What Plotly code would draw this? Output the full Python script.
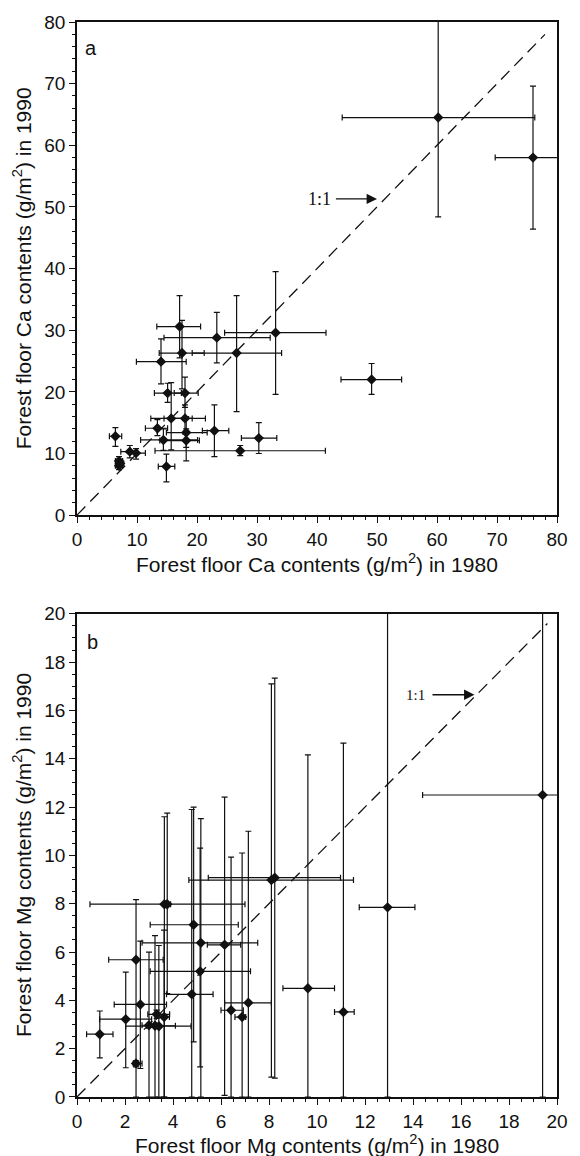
import plotly.graph_objects as go

# ---------------- Panel a: Ca ----------------
ca_1980 = [60.2, 76.0, 49.1, 33.1, 26.6, 23.3, 17.1, 17.5, 14.0, 15.1, 18.0, 15.7, 18.0, 13.4,
           14.4, 18.2, 18.2, 22.9, 30.3, 27.2, 14.9, 6.4, 8.8, 9.85, 7.0, 7.0, 7.2]
ca_1990 = [64.5, 58.0, 22.0, 29.6, 26.3, 28.8, 30.6, 26.3, 24.9, 19.8, 19.8, 15.7, 15.7, 14.1,
           12.2, 13.4, 12.1, 13.7, 12.5, 10.45, 7.9, 12.8, 10.3, 10.07, 8.8, 8.0, 8.4]
ca_1980_lo = [44.2, 69.7, 44.0, 24.6, 19.2, 14.5, 13.3, 13.7, 9.9, 12.9, 16.2, 12.3, 14.5, 11.4,
              10.6, 14.9, 13.8, 20.9, 27.4, 13.0, 13.55, 5.4, 7.3, 8.8, 6.4, 6.4, 6.6]
ca_1980_hi = [76.3, 85.0, 54.1, 41.5, 34.1, 32.2, 20.6, 21.2, 18.2, 17.4, 20.2, 19.2, 21.4, 15.1,
              20.1, 21.7, 20.4, 25.3, 33.3, 41.4, 16.3, 7.45, 10.0, 11.4, 7.6, 7.6, 7.8]
ca_1990_lo = [48.4, 46.4, 19.6, 19.6, 16.8, 24.7, 25.5, 20.5, 21.3, 18.3, 17.5, 10.6, 13.2, 12.9,
              10.5, 11.0, 8.8, 9.5, 10.0, 9.65, 5.4, 11.15, 9.3, 9.1, 8.2, 7.4, 7.8]
ca_1990_hi = [90.0, 69.6, 24.6, 39.5, 35.6, 32.9, 35.6, 31.6, 28.6, 21.4, 22.4, 21.5, 17.9, 15.5,
              14.0, 16.0, 14.0, 17.9, 15.0, 11.3, 9.9, 14.2, 11.3, 10.8, 9.5, 8.6, 9.0]

# ---------------- Panel b: Mg ----------------
mg_1980 = [0.95, 2.03, 2.46, 2.46, 2.64, 3.0, 3.25, 3.41, 3.32, 3.63, 3.64, 3.76, 4.86, 4.78,
           5.16, 5.13, 6.15, 6.42, 6.88, 7.14, 8.1, 8.24, 9.62, 11.1, 12.94, 19.4]
mg_1990 = [2.6, 3.22, 5.68, 1.39, 3.83, 2.97, 2.95, 2.93, 3.42, 3.31, 7.98, 7.98, 7.13, 4.25,
           6.38, 5.2, 6.3, 3.59, 3.31, 3.9, 8.98, 9.08, 4.5, 3.52, 7.85, 12.5]
mg_1980_lo = [0.4, 0.94, 1.32, 2.34, 1.55, 2.71, 2.9, 2.03, 2.95, 3.3, 0.54, 3.6, 3.05, 3.73,
              2.71, 3.05, 5.43, 6.0, 6.58, 6.15, 4.66, 5.47, 8.58, 10.73, 11.76, 14.4]
mg_1980_hi = [1.5, 3.11, 3.59, 2.71, 3.73, 3.3, 4.1, 4.75, 3.86, 3.85, 7.0, 3.9, 6.72, 5.67,
              7.53, 7.23, 6.82, 6.93, 7.03, 8.1, 11.52, 10.98, 10.73, 11.55, 14.08, 21.0]
mg_1990_lo = [1.62, 1.21, 0.0, 1.25, 1.18, 0.0, 0.0, 0.0, 3.25, 0.0, 0.0, 4.28, 2.28, 0.0,
              0.0, 1.25, 0.07, 0.0, 0.0, 0.0, 0.82, 0.78, 0.0, 0.0, 0.0, 0.0]
mg_1990_hi = [3.56, 5.17, 8.17, 1.5, 6.45, 6.0, 6.68, 6.27, 3.6, 6.91, 11.6, 11.75, 12.0, 11.9,
              11.52, 10.3, 12.41, 9.93, 10.1, 11.0, 17.1, 17.34, 14.16, 14.65, 25.0, 25.0]

ca_range = [0, 80]
mg_range = [0, 20]
ca_diag = [0, 78]
mg_diag = [0, 19.6]

FONT = "Liberation Sans, Arial, sans-serif"
SERIF = "Liberation Serif, Times New Roman, serif"
INK = "#111111"

fig = go.Figure()


def add_panel(x, y, xlo, xhi, ylo, yhi, diag, xa, ya):
    fig.add_trace(go.Scatter(
        x=diag, y=diag, mode="lines", xaxis=xa, yaxis=ya,
        line=dict(color=INK, width=1.3, dash="12px,7px"),
        hoverinfo="skip", showlegend=False))
    fig.add_trace(go.Scatter(
        x=x, y=y, mode="markers", xaxis=xa, yaxis=ya, showlegend=False,
        marker=dict(symbol="diamond", size=8, color=INK),
        error_x=dict(type="data", symmetric=False,
                     array=[h - v for h, v in zip(xhi, x)],
                     arrayminus=[v - l for v, l in zip(x, xlo)],
                     color=INK, thickness=1.2, width=3),
        error_y=dict(type="data", symmetric=False,
                     array=[h - v for h, v in zip(yhi, y)],
                     arrayminus=[v - l for v, l in zip(y, ylo)],
                     color=INK, thickness=1.2, width=3),
    ))


add_panel(ca_1980, ca_1990, ca_1980_lo, ca_1980_hi, ca_1990_lo, ca_1990_hi, ca_diag, "x", "y")
add_panel(mg_1980, mg_1990, mg_1980_lo, mg_1980_hi, mg_1990_lo, mg_1990_hi, mg_diag, "x2", "y2")

W, H = 580, 1156
ML, MR, MT, MB = 77, 13, 18, 59
PH = H - MT - MB


def pdom(top_px, bot_px):
    return [1 - (bot_px - MT) / PH, 1 - (top_px - MT) / PH]


def axis_common(rng, dtick, minor_dtick):
    return dict(
        range=rng, dtick=dtick, tick0=0, ticks="outside", ticklen=6, tickwidth=1.2,
        tickcolor=INK, showline=True, linecolor=INK, linewidth=1.5, mirror=True,
        showgrid=False, zeroline=False,
        tickfont=dict(family=FONT, size=19, color=INK),
        minor=dict(dtick=minor_dtick, ticks="outside", ticklen=3, tickwidth=1, tickcolor=INK,
                   showgrid=False),
    )


fig.update_layout(
    width=W, height=H,
    margin=dict(l=ML, r=MR, t=MT, b=MB),
    paper_bgcolor="white", plot_bgcolor="white",
    font=dict(family=FONT, color=INK),
    xaxis=dict(axis_common(ca_range, 10, 2), domain=[0, 1], anchor="y"),
    yaxis=dict(axis_common(ca_range, 10, 2), domain=pdom(18, 513), anchor="x"),
    xaxis2=dict(axis_common(mg_range, 2, 0.5), domain=[0, 1], anchor="y2"),
    yaxis2=dict(axis_common(mg_range, 2, 0.5), domain=pdom(612, 1097), anchor="x2"),
)


def px_to_paper_y(py):
    return 1 - (py - MT) / PH


def px_to_paper_x(px):
    return (px - ML) / (W - ML - MR)


TF = 21
ann = []
# axis titles
ann.append(dict(text="Forest floor Ca contents (g/m<sup>2</sup>) in 1980", xref="paper", yref="paper",
                x=0.5, y=px_to_paper_y(561), xanchor="center", yanchor="middle", showarrow=False,
                font=dict(family=FONT, size=TF, color=INK)))
ann.append(dict(text="Forest floor Mg contents (g/m<sup>2</sup>) in 1980", xref="paper", yref="paper",
                x=0.5, y=px_to_paper_y(1144), xanchor="center", yanchor="middle", showarrow=False,
                font=dict(family=FONT, size=TF, color=INK)))
ann.append(dict(text="Forest floor Ca contents (g/m<sup>2</sup>) in 1990", xref="paper", yref="paper",
                x=px_to_paper_x(21), y=px_to_paper_y(265), xanchor="center", yanchor="middle",
                textangle=-90, showarrow=False, font=dict(family=FONT, size=TF, color=INK)))
ann.append(dict(text="Forest floor Mg contents (g/m<sup>2</sup>) in 1990", xref="paper", yref="paper",
                x=px_to_paper_x(21), y=px_to_paper_y(854), xanchor="center", yanchor="middle",
                textangle=-90, showarrow=False, font=dict(family=FONT, size=TF, color=INK)))
# panel letters
ann.append(dict(text="a", xref="x", yref="y", x=2.4, y=75.8, showarrow=False,
                font=dict(family=FONT, size=20, color=INK)))
ann.append(dict(text="b", xref="x2", yref="y2", x=0.65, y=18.85, showarrow=False,
                font=dict(family=FONT, size=20, color=INK)))
# 1:1 labels
ann.append(dict(text="1:1", xref="x", yref="y", x=42.6, y=51.3, xanchor="right", yanchor="middle",
                showarrow=False, font=dict(family=SERIF, size=18, color=INK)))
ann.append(dict(text="", xref="x", yref="y", x=50.0, y=51.3, axref="x", ayref="y", ax=42.9, ay=51.3,
                showarrow=True, arrowhead=2, arrowsize=1.6, arrowwidth=1.3, arrowcolor=INK))
ann.append(dict(text="1:1", xref="x2", yref="y2", x=14.6, y=16.65, xanchor="right", yanchor="middle",
                showarrow=False, font=dict(family=SERIF, size=15, color=INK)))
ann.append(dict(text="", xref="x2", yref="y2", x=16.56, y=16.65, axref="x2", ayref="y2", ax=14.75, ay=16.65,
                showarrow=True, arrowhead=2, arrowsize=1.6, arrowwidth=1.3, arrowcolor=INK))

fig.update_layout(annotations=ann)

fig.write_html("out.html")
